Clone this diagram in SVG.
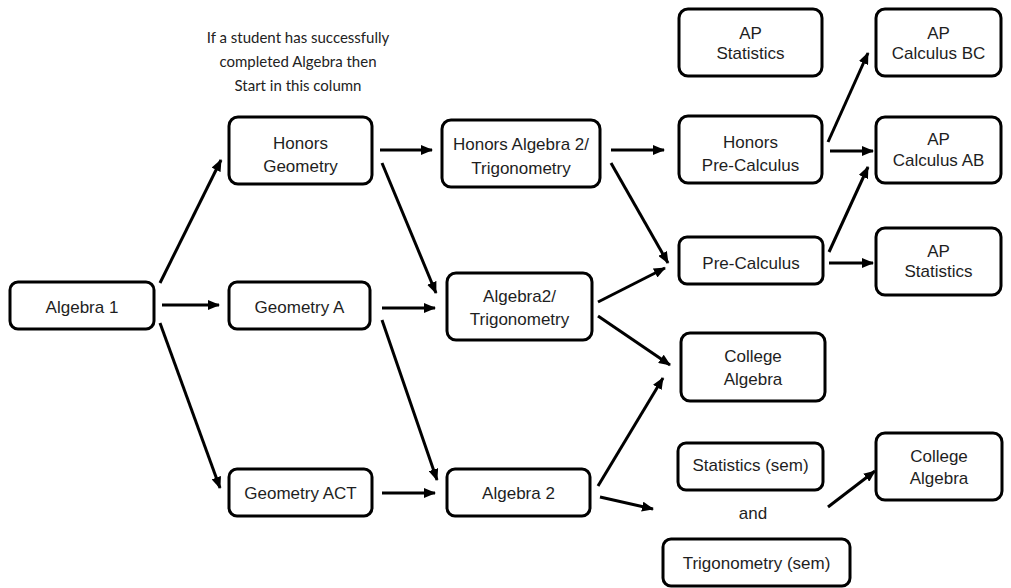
<svg xmlns="http://www.w3.org/2000/svg" width="1011" height="588" viewBox="0 0 1011 588">
<defs>
<marker id="ah" markerUnits="userSpaceOnUse" markerWidth="12" markerHeight="10" refX="11" refY="5" orient="auto">
<path d="M0,0 L12,5 L0,10 z" fill="#000"/>
</marker>
<style>
.box{fill:#fff;stroke:#000;stroke-width:3}
.t{font-family:"Liberation Sans",Arial,sans-serif;font-size:17px;fill:#1e1e1e;text-anchor:middle}
.note{font-family:"Lato","Open Sans",sans-serif;font-size:15px;fill:#222;text-anchor:middle}
.c line{stroke:#000;stroke-width:3;marker-end:url(#ah)}
</style>
</defs>
<rect width="1011" height="588" fill="#fff"/>
<g id="note">
<text class="note" x="298" y="43">If a student has successfully</text>
<text class="note" x="298" y="67">completed Algebra then</text>
<text class="note" x="298" y="91">Start in this column</text>
</g>
<g class="c" id="connectors">
<line x1="160" y1="283" x2="221" y2="160"/>
<line x1="162" y1="305" x2="219" y2="305"/>
<line x1="160" y1="323" x2="220" y2="488"/>
<line x1="380" y1="150" x2="432" y2="150"/>
<line x1="382" y1="163" x2="436" y2="293"/>
<line x1="382" y1="308" x2="435" y2="308"/>
<line x1="382" y1="320" x2="437" y2="480"/>
<line x1="382" y1="493" x2="435" y2="493"/>
<line x1="611" y1="150" x2="664" y2="150"/>
<line x1="611" y1="163" x2="668" y2="263"/>
<line x1="598" y1="302" x2="665" y2="268"/>
<line x1="598" y1="316" x2="670" y2="365"/>
<line x1="598" y1="486" x2="663" y2="378"/>
<line x1="600" y1="497" x2="653" y2="509"/>
<line x1="828" y1="142" x2="868" y2="53"/>
<line x1="830" y1="151" x2="873" y2="151"/>
<line x1="829" y1="252" x2="868" y2="167"/>
<line x1="829" y1="263" x2="873" y2="263"/>
<line x1="828" y1="507" x2="875" y2="471"/>
</g>
<g id="algebra1"><rect class="box" x="10" y="282" width="144" height="47" rx="8"/><text class="t" x="82" y="313">Algebra 1</text></g>
<g id="honorsGeometry"><rect class="box" x="229" y="117" width="143" height="67" rx="9"/><text class="t" x="300.5" y="149">Honors</text><text class="t" x="300.5" y="172">Geometry</text></g>
<g id="geometryA"><rect class="box" x="229" y="282" width="141" height="47" rx="8"/><text class="t" x="299.5" y="313">Geometry A</text></g>
<g id="geometryACT"><rect class="box" x="229" y="469" width="143" height="47" rx="8"/><text class="t" x="300.5" y="499">Geometry ACT</text></g>
<g id="honorsAlg2"><rect class="box" x="442" y="120" width="158" height="67" rx="9"/><text class="t" x="521" y="150">Honors Algebra 2/</text><text class="t" x="521" y="174">Trigonometry</text></g>
<g id="alg2trig"><rect class="box" x="447" y="273" width="145" height="67" rx="9"/><text class="t" x="519.5" y="302">Algebra2/</text><text class="t" x="519.5" y="325">Trigonometry</text></g>
<g id="algebra2"><rect class="box" x="447" y="469" width="143" height="47" rx="8"/><text class="t" x="518.5" y="499">Algebra 2</text></g>
<g id="apStatsTop"><rect class="box" x="679" y="9" width="143" height="67" rx="9"/><text class="t" x="750.5" y="39">AP</text><text class="t" x="750.5" y="59">Statistics</text></g>
<g id="honorsPreCalc"><rect class="box" x="679" y="116" width="143" height="67" rx="9"/><text class="t" x="750.5" y="148">Honors</text><text class="t" x="750.5" y="171">Pre-Calculus</text></g>
<g id="preCalc"><rect class="box" x="679" y="237" width="144" height="47" rx="8"/><text class="t" x="751" y="269">Pre-Calculus</text></g>
<g id="collegeAlgebra1"><rect class="box" x="681" y="333" width="144" height="68" rx="9"/><text class="t" x="753" y="362">College</text><text class="t" x="753" y="385">Algebra</text></g>
<g id="statsSem"><rect class="box" x="678" y="443" width="145" height="47" rx="8"/><text class="t" x="750.5" y="471">Statistics (sem)</text></g>
<text class="t" x="753" y="519">and</text>
<g id="trigSem"><rect class="box" x="663" y="539" width="187" height="47" rx="8"/><text class="t" x="756.5" y="569">Trigonometry (sem)</text></g>
<g id="apCalcBC"><rect class="box" x="876" y="9" width="125" height="67" rx="9"/><text class="t" x="938.5" y="39">AP</text><text class="t" x="938.5" y="59">Calculus BC</text></g>
<g id="apCalcAB"><rect class="box" x="876" y="117" width="125" height="66" rx="9"/><text class="t" x="938.5" y="145">AP</text><text class="t" x="938.5" y="166">Calculus AB</text></g>
<g id="apStatsRight"><rect class="box" x="876" y="228" width="125" height="67" rx="9"/><text class="t" x="938.5" y="257">AP</text><text class="t" x="938.5" y="277">Statistics</text></g>
<g id="collegeAlgebra2"><rect class="box" x="876" y="433" width="126" height="67" rx="9"/><text class="t" x="939" y="462">College</text><text class="t" x="939" y="484">Algebra</text></g>
</svg>
